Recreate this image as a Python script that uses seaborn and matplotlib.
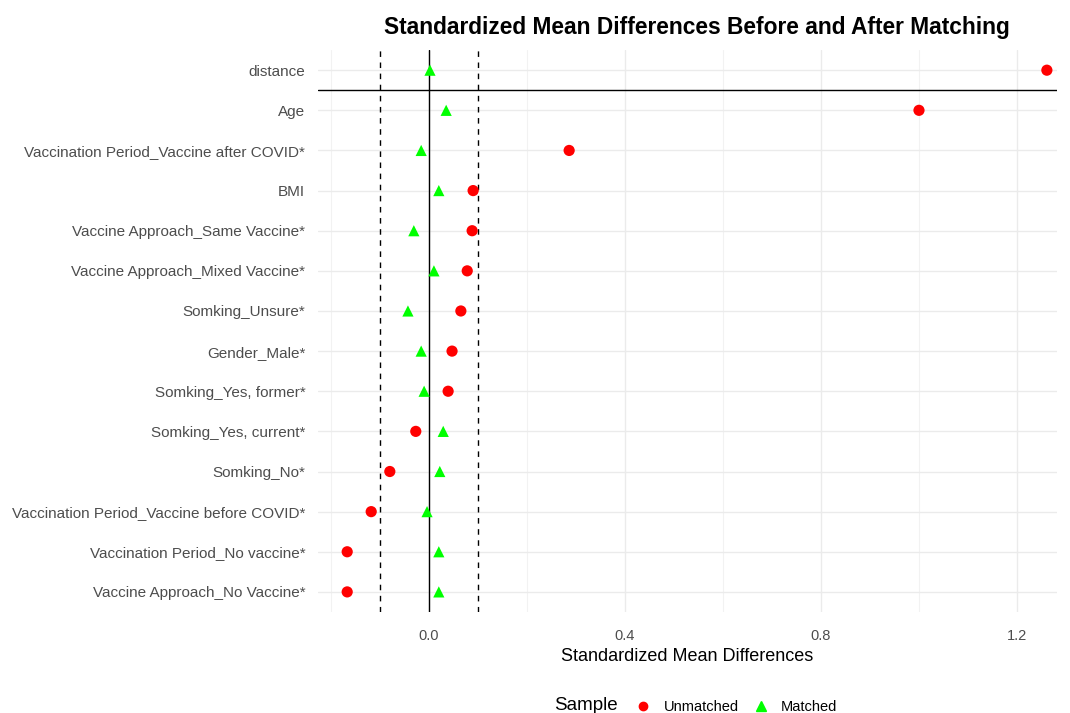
import pandas as pd
import matplotlib
matplotlib.use("Agg")
import matplotlib.pyplot as plt
import matplotlib.ticker as mticker
from matplotlib.lines import Line2D
import seaborn as sns

variables = [
    "distance",
    "Age",
    "Vaccination Period_Vaccine after COVID*",
    "BMI",
    "Vaccine Approach_Same Vaccine*",
    "Vaccine Approach_Mixed Vaccine*",
    "Somking_Unsure*",
    "Gender_Male*",
    "Somking_Yes, former*",
    "Somking_Yes, current*",
    "Somking_No*",
    "Vaccination Period_Vaccine before COVID*",
    "Vaccination Period_No vaccine*",
    "Vaccine Approach_No Vaccine*",
]
unmatched = [1.261, 1.000, 0.286, 0.090, 0.088, 0.078, 0.065, 0.047, 0.039,
             -0.027, -0.080, -0.118, -0.167, -0.167]
matched = [0.002, 0.035, -0.016, 0.020, -0.031, 0.010, -0.043, -0.016, -0.010,
           0.029, 0.022, -0.004, 0.020, 0.020]

df = pd.concat([
    pd.DataFrame({"var": variables, "smd": unmatched, "Sample": "Unmatched"}),
    pd.DataFrame({"var": variables, "smd": matched, "Sample": "Matched"}),
])

sns.set_style("white")
plt.rcParams["font.family"] = ["Liberation Sans", "DejaVu Sans"]
plt.rcParams["text.color"] = "black"
plt.rcParams["axes.labelcolor"] = "black"

fig = plt.figure(figsize=(10.7, 7.13), dpi=100)
ax = fig.add_axes([0.297, 0.1417, 0.691, 0.788])

sns.scatterplot(
    data=df, x="smd", y="var", hue="Sample", style="Sample",
    palette={"Unmatched": "#ff0000", "Matched": "#00ff00"},
    markers={"Unmatched": "o", "Matched": "^"},
    s=65, edgecolor="none", linewidth=0, legend=False, ax=ax, zorder=3,
)

ax.set_ylim(len(variables) - 0.5, -0.5)
ax.set_xlim(-0.227, 1.282)
ax.xaxis.set_major_locator(mticker.MultipleLocator(0.4))
ax.xaxis.set_minor_locator(mticker.MultipleLocator(0.2))
ax.xaxis.set_major_formatter(mticker.FormatStrFormatter("%.1f"))
ax.grid(True, which="major", color="#ebebeb", linewidth=1.0)
ax.grid(True, which="minor", axis="x", color="#f2f2f2", linewidth=0.8)
ax.set_axisbelow(True)
for sp in ax.spines.values():
    sp.set_visible(False)
ax.tick_params(axis="y", length=0, labelsize=11, colors="#4d4d4d", pad=9)
ax.tick_params(axis="x", length=0, labelsize=10.5, colors="#4d4d4d", pad=12)

ax.axvline(0, color="black", linewidth=1, zorder=2)
ax.axvline(-0.1, color="black", linewidth=1, linestyle=(0, (4, 4)), zorder=2)
ax.axvline(0.1, color="black", linewidth=1, linestyle=(0, (4, 4)), zorder=2)
ax.axhline(0.5, color="black", linewidth=1, zorder=2)

ax.set_ylabel("")
ax.set_xlabel("Standardized Mean Differences", fontsize=13, labelpad=4)
fig.suptitle("Standardized Mean Differences Before and After Matching",
             fontsize=16.4, fontweight="bold", color="black",
             x=0.651, y=0.977)

handles = [
    Line2D([], [], marker="o", color="#ff0000", linestyle="", markersize=6),
    Line2D([], [], marker="^", color="#00ff00", linestyle="", markersize=7),
]
fig.text(0.518, -0.002, "Sample", fontsize=13.5, va="bottom", ha="left")
fig.legend(handles, ["Unmatched", "Matched"], loc="lower left",
           bbox_to_anchor=(0.582, -0.02), ncol=2, frameon=False,
           fontsize=10.5, handlelength=1.0, handletextpad=0.9,
           columnspacing=1.0)

fig.savefig("out.png", dpi=100)
